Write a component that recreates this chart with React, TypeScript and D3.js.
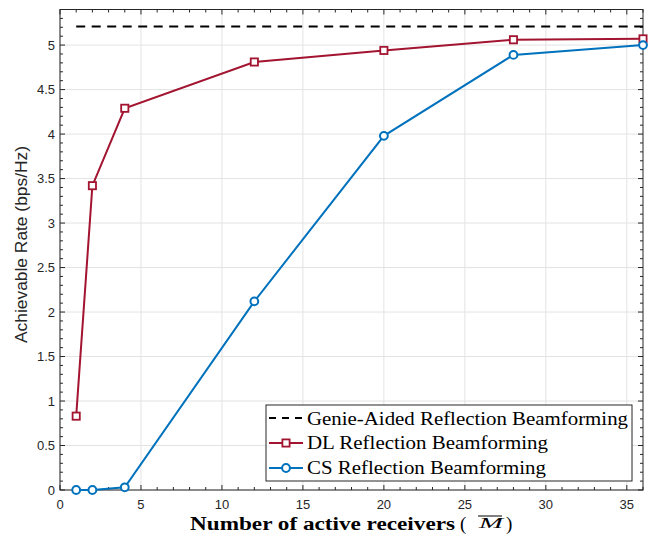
import React from "react";
import * as d3 from "d3";

const receivers = [1, 2, 4, 12, 20, 28, 36];
const dlRate = [0.83, 3.42, 4.29, 4.81, 4.94, 5.06, 5.07];
const csRate = [0.0, 0.0, 0.03, 2.12, 3.98, 4.89, 5.0];
const genieRate = 5.21;
const xTicks = [0, 5, 10, 15, 20, 25, 30, 35];
const yTicks = [0, 0.5, 1, 1.5, 2, 2.5, 3, 3.5, 4, 4.5, 5];
const legendLabels = [
  "Genie-Aided Reflection Beamforming",
  "DL Reflection Beamforming",
  "CS Reflection Beamforming",
];
const legendWidths = [321, 241, 239];

const W = 650, H = 539;
const L = 60, R = 643, T = 9.5, B = 490;

export default function App() {
  const x = d3.scaleLinear().domain([0, 36]).range([L, R]);
  const y = d3.scaleLinear().domain([0, 5.4]).range([B, T]);
  const line = d3.line<number>().x((_, i) => x(receivers[i])).y((d) => y(d));
  const minorX = d3.range(0, 37, 1);
  const minorY = d3.range(0, 55, 1).map((i) => i / 10);
  const dl = "#A2142F", cs = "#0072BD";
  const axisCol = "#262626";
  const lx = 266, ly = 405, lw = 366, lh = 76;
  const serif = "Liberation Serif, Times New Roman, serif";
  const sans = "Liberation Sans, Arial, sans-serif";
  return (
    <svg width={W} height={H} style={{ position: "absolute", left: 0, top: 0 }}>
      <rect x={0} y={0} width={W} height={H} fill="#fff" />
      {xTicks.map((t) => (
        <line key={"gx" + t} x1={x(t)} x2={x(t)} y1={T} y2={B} stroke="#e3e3e3" strokeWidth={1} />
      ))}
      {yTicks.map((t) => (
        <line key={"gy" + t} x1={L} x2={R} y1={y(t)} y2={y(t)} stroke="#e3e3e3" strokeWidth={1} />
      ))}
      {minorX.map((t) => {
        const len = t % 5 === 0 ? 5 : 3;
        return (
          <g key={"mx" + t}>
            <line x1={x(t)} x2={x(t)} y1={B} y2={B - len} stroke={axisCol} />
            <line x1={x(t)} x2={x(t)} y1={T} y2={T + len} stroke={axisCol} />
          </g>
        );
      })}
      {minorY.map((t, i) => {
        const len = i % 5 === 0 ? 5 : 3;
        return (
          <g key={"my" + i}>
            <line x1={L} x2={L + len} y1={y(t)} y2={y(t)} stroke={axisCol} />
            <line x1={R} x2={R - len} y1={y(t)} y2={y(t)} stroke={axisCol} />
          </g>
        );
      })}
      <rect x={L} y={T} width={R - L} height={B - T} fill="none" stroke={axisCol} strokeWidth={1} />
      {xTicks.map((t) => (
        <text key={"xl" + t} x={x(t)} y={B + 19} textAnchor="middle" fontFamily={sans} fontSize={13} fill={axisCol}>
          {t}
        </text>
      ))}
      {yTicks.map((t) => (
        <text key={"yl" + t} x={L - 5} y={y(t) + 4.5} textAnchor="end" fontFamily={sans} fontSize={13} fill={axisCol}>
          {t}
        </text>
      ))}
      <line x1={x(1)} x2={x(36)} y1={y(genieRate)} y2={y(genieRate)} stroke="#000" strokeWidth={2} strokeDasharray="9,6.5" />
      <path d={line(dlRate) || ""} fill="none" stroke={dl} strokeWidth={2} />
      {dlRate.map((v, i) => (
        <rect key={"dl" + i} x={x(receivers[i]) - 3.6} y={y(v) - 3.6} width={7.2} height={7.2} fill="#fff" stroke={dl} strokeWidth={1.8} />
      ))}
      <path d={line(csRate) || ""} fill="none" stroke={cs} strokeWidth={2} />
      {csRate.map((v, i) => (
        <circle key={"cs" + i} cx={x(receivers[i])} cy={y(v)} r={3.9} fill="#fff" stroke={cs} strokeWidth={2} />
      ))}
      {/* legend */}
      <rect x={lx} y={ly} width={lw} height={lh} fill="#fff" stroke={axisCol} strokeWidth={1} />
      <line x1={269} x2={303} y1={418} y2={418} stroke="#000" strokeWidth={2} strokeDasharray="7,6" />
      <line x1={269} x2={303} y1={443} y2={443} stroke={dl} strokeWidth={2} />
      <rect x={286 - 3.6} y={443 - 3.6} width={7.2} height={7.2} fill="#fff" stroke={dl} strokeWidth={1.8} />
      <line x1={269} x2={303} y1={468} y2={468} stroke={cs} strokeWidth={2} />
      <circle cx={286} cy={468} r={3.9} fill="#fff" stroke={cs} strokeWidth={2} />
      {legendLabels.map((s, i) => (
        <text key={"lg" + i} x={307} y={424.5 + i * 24.5} fontFamily={serif} fontSize={19} fill="#000" textLength={legendWidths[i]} lengthAdjust="spacingAndGlyphs">
          {s}
        </text>
      ))}
      {/* x label */}
      <text x={190} y={530} fontFamily={serif} fontSize={18} fontWeight="bold" fill="#000" textLength={265} lengthAdjust="spacingAndGlyphs">
        Number of active receivers
      </text>
      <text x={460} y={530} fontFamily={serif} fontSize={19} fill="#000">(</text>
      <text x={479} y={528} fontFamily={serif} fontSize={15.5} fontStyle="italic" fontWeight="normal" fill="#000" textLength={24} lengthAdjust="spacingAndGlyphs">M</text>
      <line x1={478} x2={502} y1={516} y2={516} stroke="#000" strokeWidth={1} />
      <text x={506} y={530} fontFamily={serif} fontSize={19} fill="#000">)</text>
      <text transform={`translate(27,244.5) rotate(-90)`} textAnchor="middle" fontFamily={sans} fontSize={16.5} fill={axisCol} textLength={197} lengthAdjust="spacingAndGlyphs">
        Achievable Rate (bps/Hz)
      </text>
    </svg>
  );
}
